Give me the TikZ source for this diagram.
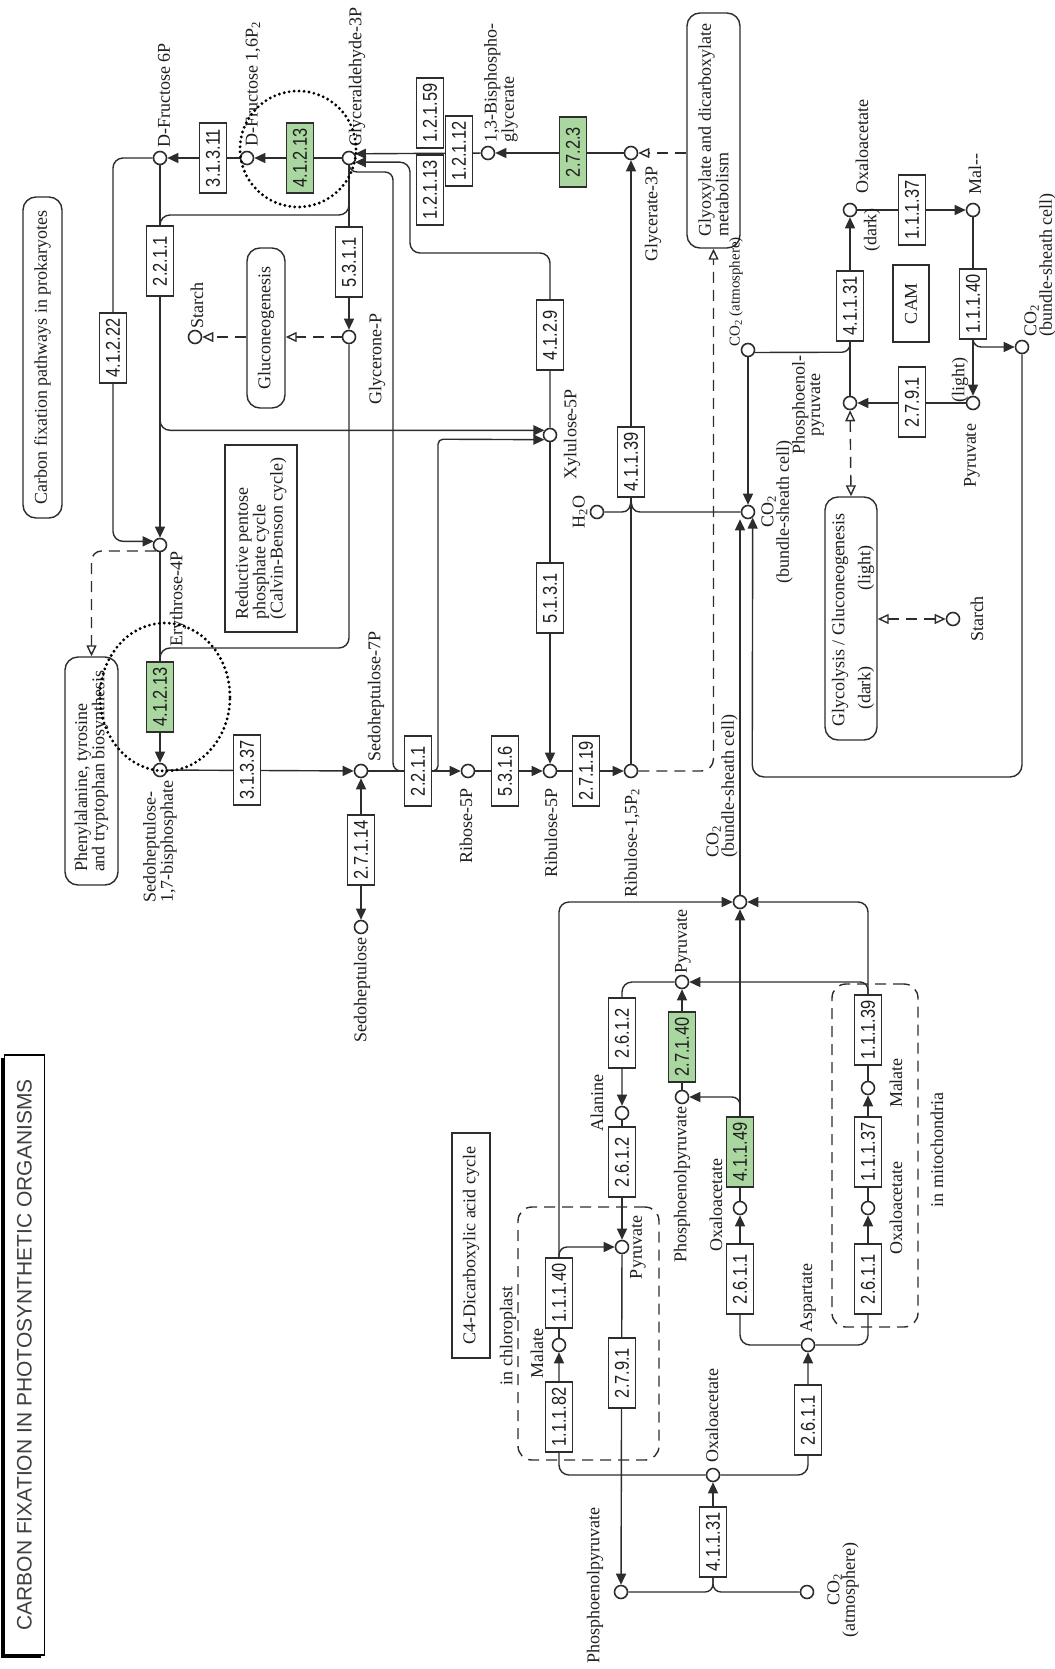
\documentclass[tikz,border=0pt]{standalone}
\usepackage{fontspec}
\setmainfont{Liberation Serif}
\newfontfamily\ecfont[FakeStretch=0.82]{Liberation Sans}
\newfontfamily\titlefont{Liberation Sans}
\usetikzlibrary{arrows.meta,calc,shapes.geometric}
\pgfdeclarelayer{back}
\pgfdeclarelayer{bg}
\pgfsetlayers{back,bg,main}
\definecolor{lncol}{RGB}{45,45,45}
\definecolor{ecgreen}{RGB}{170,214,160}
\definecolor{txtcol}{RGB}{30,30,30}
\tikzset{
 ln/.style={draw=lncol, line width=1.4pt},
 arr/.style={ln, -{Triangle[length=11pt,width=10pt]}},
 barr/.style={ln, {Triangle[length=11pt,width=10pt]}-{Triangle[length=11pt,width=10pt]}},
 dsh/.style={ln, dash pattern=on 11pt off 7pt},
 oarr/.style={dsh, -{Triangle[open,length=11pt,width=10pt,fill=white]}},
 boarr/.style={dsh, {Triangle[open,length=11pt,width=10pt,fill=white]}-{Triangle[open,length=11pt,width=10pt,fill=white]}},
 cpd/.style={circle, draw=lncol, line width=1.6pt, fill=white, minimum size=13pt, inner sep=0pt},
 ec/.style={draw=lncol, line width=1.4pt, fill=white, rotate=90, minimum width=70pt, minimum height=27pt, inner sep=0pt, font=\ecfont\fontsize{20}{20}\selectfont, text=txtcol},
 ecg/.style={ec, fill=ecgreen},
 lbl/.style={rotate=90, inner sep=0pt, font=\fontsize{18}{15.5}\selectfont, text=txtcol},
 mapbox/.style={draw=lncol, line width=1.4pt, fill=white, rotate=90, rounded corners=13pt, inner sep=2pt, font=\fontsize{18}{16}\selectfont, text=txtcol},
 rbox/.style={mapbox, rounded corners=0pt},
 dbox/.style={draw=lncol, line width=1.4pt, dash pattern=on 11pt off 7pt, rounded corners=14pt, inner sep=0pt},
 dotc/.style={draw=black, line width=3.2pt, dash pattern=on 0pt off 5pt, line cap=round, inner sep=0pt},
}
\begin{document}
\begin{tikzpicture}[x=1pt,y=-1pt]
\useasboundingbox (0,0) rectangle (1054,1669);
\begin{pgfonlayer}{back}
\fill[white] (0,0) rectangle (1054,1669);
\end{pgfonlayer}

% ---------- title ----------
\fill[black] (0.5,1058) rectangle (40.5,1658);
\node[draw=black, line width=1.2pt, fill=white, minimum width=40pt, minimum height=600pt, inner sep=0pt] (titlebox) at (24.5,1355) {};
\node[rotate=90, font=\titlefont\fontsize{21}{21}\selectfont, text=black!75] (title) at (titlebox.center) {CARBON FIXATION IN PHOTOSYNTHETIC ORGANISMS};

% ---------- map boxes ----------
\node[mapbox, minimum width=321pt, minimum height=39pt] (prok) at (42.5,357.5) {Carbon fixation pathways in prokaryotes};
\node[mapbox, minimum width=160pt, minimum height=38pt] (gluco) at (266,328) {Gluconeogenesis};
\node[mapbox, minimum width=235pt, minimum height=53pt, align=left] (glyox) at (713.5,130.5) {Glyoxylate and dicarboxylate\\metabolism};
\node[rbox, minimum width=187pt, minimum height=72pt, align=left] (rpp) at (261,538.5) {Reductive pentose\\phosphate cycle\\(Calvin-Benson cycle)};
\node[mapbox, minimum width=228pt, minimum height=53pt, align=left] (phe) at (91.5,771) {Phenylalanine, tyrosine\\and tryptophan biosynthesis};
\node[rbox, minimum width=77pt, minimum height=36pt] (cam) at (911,303.5) {CAM};
\node[mapbox, minimum width=243pt, minimum height=52pt] (glyco) at (851,618.5) {};
\node[lbl] (tglyco) at (840,620) {Glycolysis / Gluconeogenesis};
\node[lbl] (tdark) at (866,688) {(dark)};
\node[lbl] (tlight) at (866,568) {(light)};
\node[rbox, minimum width=225pt, minimum height=38pt] (c4) at (471,1245.5) {C4-Dicarboxylic acid cycle};
\node[dbox, minimum width=141pt, minimum height=253pt] (chl) at (588.5,1333.5) {};
\node[dbox, minimum width=86pt, minimum height=343pt] (mito) at (875,1155.5) {};

% ---------- compounds ----------
\node[cpd] (F6P) at (160,158) {};
\node[cpd] (F16P) at (247,158) {};
\node[cpd] (G3P) at (349,158) {};
\node[cpd] (BPG) at (488,153) {};
\node[cpd] (PGA) at (631,153) {};
\node[cpd] (GlyP) at (349,337) {};
\node[cpd] (St1) at (195,337) {};
\node[cpd] (E4P) at (160,545) {};
\node[cpd] (X5P) at (550,435) {};
\node[cpd] (S17) at (160,770) {};
\node[cpd] (S7P) at (361,771) {};
\node[cpd] (R5P) at (468,771) {};
\node[cpd] (Ru5P) at (550,771) {};
\node[cpd] (RuBP) at (631,771) {};
\node[cpd] (Sedo) at (361,927) {};
\node[cpd] (H2O) at (597,512) {};
\node[cpd] (CObs) at (748,512) {};
\node[cpd] (COatm) at (748,350) {};
\node[cpd] (OAAc) at (850,210) {};
\node[cpd] (MalC) at (973,210) {};
\node[cpd] (PEPc) at (850,403) {};
\node[cpd] (PyrC) at (973,403) {};
\node[cpd] (CObs2) at (1022,347) {};
\node[cpd] (St2) at (953,619) {};
\node[cpd] (CO4) at (740,902) {};
\node[cpd] (PyrB) at (682,982) {};
\node[cpd] (PEPb) at (682,1097) {};
\node[cpd] (Ala) at (622,1113) {};
\node[cpd] (PyrM) at (622,1247) {};
\node[cpd] (MalM) at (559,1345) {};
\node[cpd] (PEPm) at (621,1592) {};
\node[cpd] (COatm2) at (807,1592) {};
\node[cpd] (OAAm) at (713,1475) {};
\node[cpd] (Asp) at (808,1345) {};
\node[cpd] (OAAb) at (740,1208) {};
\node[cpd] (MalX) at (868,1088) {};
\node[cpd] (OAAx) at (868,1208) {};

% ---------- enzymes ----------
\node[ec] (e31311) at (213,158) {3.1.3.11};
\node[ecg] (e41213a) at (300,158) {4.1.2.13};
\node[ec] (e2211a) at (160,261) {2.2.1.1};
\node[ec] (e5311) at (349,262) {5.3.1.1};
\node[ec] (e41222) at (113,348) {4.1.2.22};
\node[ec] (e12159) at (430,113) {1.2.1.59};
\node[ec] (e12113) at (430,190) {1.2.1.13};
\node[ec] (e12112) at (459,151) {1.2.1.12};
\node[ecg] (e2723) at (573,152) {2.7.2.3};
\node[ec] (e4129) at (550,335) {4.1.2.9};
\node[ec] (e41131a) at (850,306) {4.1.1.31};
\node[ec] (e11137a) at (912,210) {1.1.1.37};
\node[ec] (e11140a) at (973,304) {1.1.1.40};
\node[ec] (e2791a) at (912,402) {2.7.9.1};
\node[ecg] (e41213b) at (160,697) {4.1.2.13};
\node[ec] (e31337) at (247,770) {3.1.3.37};
\node[ec] (e2211b) at (418,771) {2.2.1.1};
\node[ec] (e5316) at (505,771) {5.3.1.6};
\node[ec] (e5131) at (550,598) {5.1.3.1};
\node[ec] (e27119) at (586,771) {2.7.1.19};
\node[ec] (e41139) at (631,462) {4.1.1.39};
\node[ec] (e27114) at (361,850) {2.7.1.14};
\node[ec] (e2612a) at (622,1033) {2.6.1.2};
\node[ecg] (e27140) at (682,1047) {2.7.1.40};
\node[ec] (e2612b) at (622,1162) {2.6.1.2};
\node[ecg] (e41149) at (740,1152) {4.1.1.49};
\node[ec] (e11139) at (868,1030) {1.1.1.39};
\node[ec] (e11137b) at (868,1152) {1.1.1.37};
\node[ec] (e2611a) at (740,1279) {2.6.1.1};
\node[ec] (e2611b) at (868,1279) {2.6.1.1};
\node[ec] (e11140b) at (559,1293) {1.1.1.40};
\node[ec] (e11182) at (559,1417) {1.1.1.82};
\node[ec] (e2791b) at (622,1373) {2.7.9.1};
\node[ec] (e41131b) at (713,1542) {4.1.1.31};
\node[ec] (e2611c) at (808,1420) {2.6.1.1};

% ---------- labels ----------
\node[lbl, anchor=west] (lF6P) at (164,148) {D-Fructose 6P};
\node[lbl, anchor=west] (lF16P) at (253,147) {D-Fructose 1,6P\textsubscript{2}};
\node[lbl, anchor=west] (lG3P) at (357,147) {Glyceraldehyde-3P};
\node[lbl, anchor=west, align=left] (lBPG) at (501,143) {1,3-Bisphospho-\\glycerate};
\node[lbl, anchor=east] (lPGA) at (653,166) {Glycerate-3P};
\node[lbl, anchor=east] (lGlyP) at (377,313) {Glycerone-P};
\node[lbl, anchor=west] (lSt1) at (197,329) {Starch};
\node[lbl, anchor=east] (lE4P) at (178,551) {Erythrose-4P};
\node[lbl, anchor=east, align=left] (lS17) at (160,780) {Sedoheptulose-\\1,7-bisphosphate};
\node[lbl, anchor=west] (lS7P) at (376,762) {Sedoheptulose-7P};
\node[lbl] (lX5P) at (572,434) {Xylulose-5P};
\node[lbl, anchor=east] (lR5P) at (466,788) {Ribose-5P};
\node[lbl, anchor=east] (lRu5P) at (551,788) {Ribulose-5P};
\node[lbl, anchor=east] (lRuBP) at (632,788) {Ribulose-1,5P\textsubscript{2}};
\node[lbl, anchor=east] (lSedo) at (362,937) {Sedoheptulose};
\node[lbl] (lH2O) at (580,512) {H\textsubscript{2}O};
\node[lbl, align=center] (lCObs) at (777,512) {CO\textsubscript{2}\\(bundle-sheath cell)};
\node[lbl, anchor=west, font=\fontsize{15}{14}\selectfont] (lCOatm) at (736,347) {CO\textsubscript{2} (atmosphere)};
\node[lbl, anchor=west] (lOAAc) at (862,194) {Oxaloacetate};
\node[lbl] (ldark) at (872,230) {(dark)};
\node[lbl, anchor=west] (lMalC) at (975,195) {Mal-{}-};
\node[lbl] (llight) at (960,380) {(light)};
\node[lbl, align=center] (lPEPc) at (808,405) {Phosphoenol-\\pyruvate};
\node[lbl] (lPyrC) at (972,456) {Pyruvate};
\node[lbl] (lSt2) at (977,619) {Starch};
\node[lbl, anchor=west, align=left] (lCObs2) at (1040,337) {CO\textsubscript{2}\\(bundle-sheath cell)};
\node[lbl, anchor=west, align=left] (lCO4) at (722,858) {CO\textsubscript{2}\\(bundle-sheath cell)};
\node[lbl, anchor=west] (lPyrB) at (683,974) {Pyruvate};
\node[lbl, anchor=east] (lPEPb) at (682,1106) {Phosphoenolpyruvate};
\node[lbl] (lAla) at (597,1103) {Alanine};
\node[lbl] (lPyrM) at (638,1247) {Pyruvate};
\node[lbl] (lMalM) at (537,1353) {Malate};
\node[lbl] (lchl) at (508,1336) {in chloroplast};
\node[lbl] (lPEPm) at (595,1585) {Phosphoenolpyruvate};
\node[lbl, align=center] (lCOatm2) at (843,1590) {CO\textsubscript{2}\\(atmosphere)};
\node[lbl, anchor=west] (lOAAm) at (712,1463) {Oxaloacetate};
\node[lbl, anchor=west] (lAsp) at (808,1333) {Aspartate};
\node[lbl] (lOAAb) at (716,1205) {Oxaloacetate};
\node[lbl] (lMalX) at (896,1083) {Malate};
\node[lbl] (lOAAx) at (896,1208) {Oxaloacetate};
\node[lbl] (lmito) at (937,1150) {in mitochondria};

% ---------- connectors ----------
\begin{pgfonlayer}{bg}
% Calvin cycle
\draw[arr] (F16P) -- (F6P);
\draw[arr] (G3P) -- (F16P);
\draw[arr] (F6P) -- (E4P);
\draw[ln, rounded corners=10] (G3P.south) |- (160,215) -- (e2211a.east);
\draw[arr, rounded corners=10] (e2211a.west) |- (X5P.140);
\draw[arr, rounded corners=10] (F6P.west) -| (e41222.center) |- (E4P.150);
\draw[arr] (G3P) -- (GlyP);
\draw[oarr] (GlyP) -- (gluco.south |- GlyP);
\draw[oarr] (gluco.north |- St1) -- (St1);
\draw[ln, rounded corners=10] (GlyP.south) |- (160,648) -- (e41213b.east);
\draw[arr] (E4P) -- (S17);
\draw[oarr, rounded corners=10] (E4P.235) -| (phe.east);
\draw[arr] (S17) -- (S7P);
\draw[barr] (S7P) -- (Sedo);
\draw[arr] (S7P) -- (R5P);
\draw[ln, rounded corners=8] (G3P.south) |- (393,172) |- (e2211b.north);
\draw[arr, rounded corners=5] (e2211b.south) -| (438,439.2) -- (X5P.220);
\draw[arr] (R5P) -- (Ru5P);
\draw[arr] (X5P) -- (Ru5P);
\draw[arr] (Ru5P) -- (RuBP);
\draw[arr] (RuBP) -- (PGA);
\draw[ln] (H2O) -- (622,512) .. controls (628,512) and (631,508) .. (e41139.west);
\draw[ln] (CObs) -- (640,512) .. controls (634,512) and (631,508) .. (e41139.west);
\draw[arr] (PGA) -- (BPG);
\draw[arr] (BPG) -- (G3P.35);
\draw[arr, rounded corners=10] (X5P.north) |- (410,253) |- (G3P.-35);
\draw[oarr] (glyox.north |- PGA) -- (PGA);
\draw[oarr, rounded corners=12] (RuBP) -| (glyox.west);
% CAM
\draw[arr] (COatm) -- (CObs);
\draw[ln, rounded corners=8] (COatm.-20) -- (850,352.2) -- (e41131a.west);
\draw[arr] (PEPc) -- (OAAc);
\draw[arr] (OAAc) -- (MalC);
\draw[arr] (MalC) -- (PyrC);
\draw[arr, rounded corners=8] (e11140a.west) |- (CObs2);
\draw[arr] (PyrC) -- (PEPc);
\draw[arr, rounded corners=12] (CObs2) |- (752.2,777) -- (CObs.-50);
\draw[arr] (CO4.north) -- (CO4.north |- CObs.south);
\draw[boarr] (PEPc) -- (glyco.east);
\draw[boarr] (glyco.south |- St2) -- (St2);
% C4
\draw[arr] (OAAb) -- (CO4);
\draw[arr, rounded corners=8] (e41149.east) |- (PEPb);
\draw[arr, rounded corners=10] (e11139.east) |- (CO4);
\draw[arr, rounded corners=8] (e11139.east) |- (PyrB);
\draw[arr, rounded corners=10] (e11140b.east) |- (CO4);
\draw[arr, rounded corners=8] (e11140b.east) |- (PyrM);
\draw[arr, rounded corners=10] (PyrB) -| (Ala);
\draw[arr] (Ala) -- (PyrM);
\draw[arr] (PEPb) -- (PyrB);
\draw[arr] (PyrM) -- (PEPm);
\draw[ln, rounded corners=8] (PEPm) -| (e41131b.west);
\draw[ln, rounded corners=8] (COatm2) -| (e41131b.west);
\draw[arr] (e41131b.east) -- (OAAm);
\draw[arr, rounded corners=10] (OAAm) -| (MalM);
\draw[ln] (MalM) -- (e11140b.west);
\draw[arr, rounded corners=10] (OAAm) -| (Asp);
\draw[ln, rounded corners=10] (Asp) -| (e2611a.west);
\draw[arr] (e2611a.east) -- (OAAb);
\draw[ln, rounded corners=10] (Asp) -| (e2611b.west);
\draw[arr] (e2611b.east) -- (OAAx);
\draw[arr] (OAAx) -- (MalX);
\draw[ln] (MalX) -- (e11139.west);
\end{pgfonlayer}

% ---------- highlight circles ----------
\node[dotc, circle, minimum size=116pt] (dc1) at (298,149) {};
\node[dotc, ellipse, minimum width=130pt, minimum height=148pt] (dc2) at (165,697) {};
\end{tikzpicture}
\end{document}
